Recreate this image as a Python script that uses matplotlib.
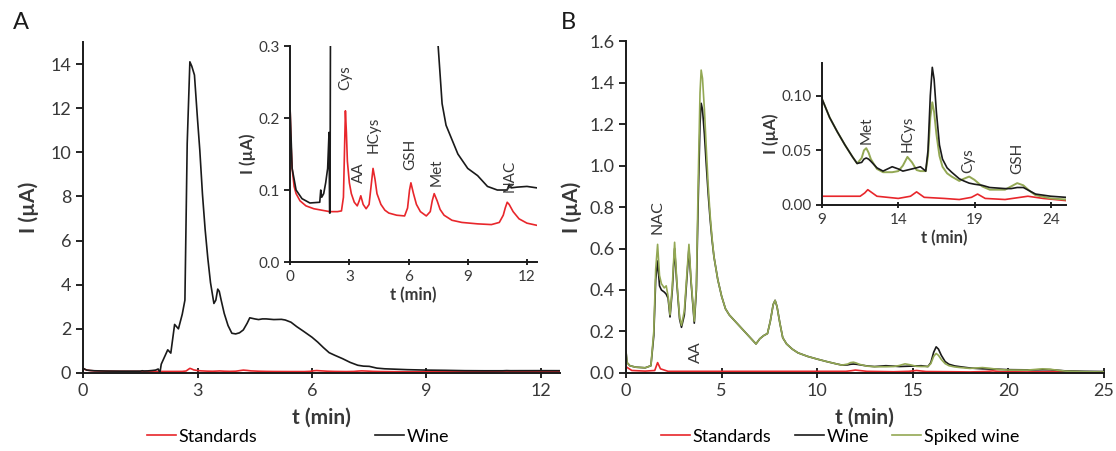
import numpy as np
import matplotlib
matplotlib.use("Agg")
import matplotlib.pyplot as plt
from matplotlib.lines import Line2D
from matplotlib.ticker import FormatStrFormatter

plt.rcParams['font.family'] = ['Lato', 'DejaVu Sans']

# ---------------- Panel A data (t in min, I in uA) ---------------- #
a_wine_t = [0, 0.1, 0.3, 0.6, 1.0, 1.5, 1.55, 1.6, 1.7, 1.8, 1.9, 1.97, 2.0, 2.02, 2.05,
            2.22, 2.3, 2.4, 2.5, 2.6, 2.67, 2.73, 2.8, 2.85, 2.92, 3.0, 3.06, 3.13, 3.2,
            3.27, 3.34, 3.43, 3.48, 3.53, 3.57, 3.62, 3.7, 3.8, 3.9, 4.0, 4.1, 4.2, 4.3,
            4.37, 4.5, 4.6, 4.7, 4.8, 5.0, 5.2, 5.3, 5.45, 5.6, 5.77, 6.0, 6.15, 6.3, 6.45,
            6.6, 6.8, 7.0, 7.2, 7.35, 7.5, 7.7, 7.9, 8.2, 8.5, 9.0, 9.5, 10.0, 10.5, 11.0,
            11.1, 11.2, 11.5, 12.0, 12.5]
a_wine_i = [0.21, 0.13, 0.1, 0.088, 0.082, 0.083, 0.1, 0.09, 0.095, 0.11, 0.13, 0.18, 0.068,
            0.068, 0.4, 1.05, 0.9, 2.2, 2.0, 2.66, 3.3, 10.4, 14.1, 13.9, 13.5, 11.5, 10.1,
            8.1, 6.5, 5.2, 4.1, 3.15, 3.3, 3.8, 3.7, 3.3, 2.7, 2.15, 1.8, 1.77, 1.82, 1.95,
            2.25, 2.5, 2.45, 2.42, 2.45, 2.45, 2.42, 2.43, 2.4, 2.3, 2.1, 1.9, 1.62, 1.4,
            1.15, 0.92, 0.8, 0.65, 0.48, 0.35, 0.31, 0.3, 0.22, 0.19, 0.17, 0.15, 0.13, 0.12,
            0.105, 0.1, 0.1, 0.108, 0.103, 0.104, 0.105, 0.103]

a_std_t = [0, 0.05, 0.1, 0.2, 0.3, 0.5, 0.8, 1.2, 1.6, 2.0, 2.4, 2.6, 2.7, 2.75, 2.8, 2.85,
           2.9, 3.0, 3.1, 3.25, 3.4, 3.5, 3.58, 3.7, 3.85, 4.0, 4.1, 4.2, 4.3, 4.4, 4.6, 4.8,
           5.0, 5.4, 5.8, 5.95, 6.05, 6.12, 6.25, 6.4, 6.6, 6.9, 7.1, 7.2, 7.3, 7.45, 7.6,
           7.8, 8.2, 8.7, 9.5, 10.2, 10.6, 10.8, 10.9, 11.0, 11.1, 11.3, 11.6, 12.0, 12.5]
a_std_i = [0.21, 0.16, 0.13, 0.105, 0.095, 0.085, 0.078, 0.074, 0.072, 0.07, 0.07, 0.071,
           0.09, 0.15, 0.21, 0.18, 0.14, 0.11, 0.095, 0.083, 0.078, 0.085, 0.092, 0.08,
           0.074, 0.08, 0.105, 0.13, 0.115, 0.095, 0.08, 0.072, 0.068, 0.065, 0.064, 0.075,
           0.1, 0.11, 0.095, 0.08, 0.07, 0.064, 0.07, 0.085, 0.095, 0.085, 0.073, 0.065,
           0.058, 0.055, 0.053, 0.052, 0.055, 0.065, 0.075, 0.083, 0.08, 0.07, 0.06, 0.054,
           0.051]

a_peaks = ['Cys', 'AA', 'HCys', 'GSH', 'Met', 'NAC']
a_peak_t = [2.8, 3.5, 4.25, 6.1, 7.4, 11.1]
a_peak_i = [0.256, 0.124, 0.176, 0.149, 0.124, 0.12]

# ---------------- Panel B data ---------------- #
b_t = [0, 0.05, 0.2, 0.5, 1.0, 1.3, 1.45, 1.55, 1.65, 1.75,
       1.85, 2.0, 2.1, 2.2, 2.3, 2.42, 2.54, 2.65, 2.8, 2.9,
       3.05, 3.2, 3.29, 3.4, 3.57, 3.68, 3.78, 3.87, 3.93, 4.0,
       4.1, 4.2, 4.3, 4.4, 4.5, 4.6, 4.8, 5.0, 5.2, 5.4,
       5.7, 6.0, 6.3, 6.5, 6.8, 7.0, 7.2, 7.4, 7.55, 7.7,
       7.8, 7.9, 8.05, 8.2, 8.4, 8.7, 9.0, 9.5, 10, 10.5,
       11, 11.3, 11.6, 11.75, 11.9, 12.05, 12.2, 12.6, 13, 13.6,
       14.0, 14.3, 14.6, 14.9, 15.2, 15.45, 15.8, 15.95, 16.1, 16.23,
       16.35, 16.5, 16.7, 16.9, 17.2, 17.5, 18, 18.3, 18.65, 19.0,
       19.5, 20, 21, 21.4, 21.8, 22.2, 22.6, 23, 24, 25]
b_wine = [0.1, 0.05, 0.035, 0.028, 0.025, 0.035, 0.18, 0.45, 0.54, 0.42,
          0.4, 0.39, 0.38, 0.36, 0.27, 0.4, 0.6, 0.44, 0.26, 0.22,
          0.28, 0.48, 0.6, 0.44, 0.24, 0.4, 0.85, 1.2, 1.3, 1.27,
          1.15, 1.0, 0.86, 0.74, 0.64, 0.56, 0.45, 0.37, 0.31, 0.28,
          0.25, 0.22, 0.19, 0.17, 0.14, 0.165, 0.18, 0.19, 0.25, 0.33,
          0.35, 0.32, 0.24, 0.17, 0.14, 0.115, 0.097, 0.08, 0.067, 0.055,
          0.044, 0.038, 0.039, 0.042, 0.043, 0.042, 0.04, 0.034, 0.031, 0.035,
          0.033, 0.031, 0.032, 0.033, 0.034, 0.035, 0.031, 0.05, 0.1, 0.126,
          0.115, 0.085, 0.055, 0.042, 0.034, 0.03, 0.024, 0.022, 0.02, 0.019,
          0.018, 0.016, 0.015, 0.015, 0.016, 0.016, 0.013, 0.01, 0.008, 0.007]
b_spiked = [0.1, 0.05, 0.035, 0.028, 0.025, 0.035, 0.2, 0.5, 0.62, 0.47,
            0.43, 0.41, 0.42, 0.37, 0.28, 0.42, 0.63, 0.45, 0.27, 0.23,
            0.3, 0.5, 0.62, 0.45, 0.25, 0.42, 0.95, 1.35, 1.46, 1.42,
            1.27, 1.08, 0.9, 0.76, 0.65, 0.56, 0.45, 0.37, 0.31, 0.28,
            0.25, 0.22, 0.19, 0.17, 0.14, 0.165, 0.18, 0.19, 0.25, 0.33,
            0.35, 0.32, 0.24, 0.17, 0.14, 0.115, 0.097, 0.08, 0.067, 0.055,
            0.044, 0.038, 0.043, 0.05, 0.052, 0.048, 0.042, 0.033, 0.03, 0.03,
            0.031, 0.036, 0.044, 0.039, 0.032, 0.031, 0.031, 0.045, 0.08, 0.094,
            0.085, 0.065, 0.045, 0.035, 0.029, 0.026, 0.022, 0.024, 0.026, 0.023,
            0.017, 0.014, 0.014, 0.017, 0.02, 0.018, 0.013, 0.009, 0.006, 0.005]

b_std_t = [0, 0.3, 1.0, 1.5, 1.65, 1.8, 2.2, 5, 9, 11.5, 11.8, 12.0, 12.3, 12.6, 14, 14.8,
           15.2, 15.7, 17, 18, 18.8, 19.2, 19.7, 21, 22.5, 23.5, 25]
b_std_i = [0.03, 0.012, 0.009, 0.012, 0.05, 0.02, 0.008, 0.008, 0.008, 0.008, 0.011, 0.014,
           0.011, 0.008, 0.006, 0.008, 0.012, 0.007, 0.006, 0.005, 0.007, 0.01, 0.006,
           0.005, 0.008, 0.006, 0.004]

b_main_peaks = ['NAC', 'AA']
b_main_peak_t = [1.67, 3.66]
b_main_peak_i = [0.75, 0.1]
b_inset_peaks = ['Met', 'HCys', 'Cys', 'GSH']
b_inset_peak_t = [11.9, 14.6, 18.6, 21.8]
b_inset_peak_i = [0.068, 0.065, 0.041, 0.043]

RED = '#e8262b'
BLACK = '#1a1a1a'
GREEN = '#93a854'
TXT = '#383838'


def style_axes(ax, fs):
    for s in ['top', 'right']:
        ax.spines[s].set_visible(False)
    for s in ['left', 'bottom']:
        ax.spines[s].set_linewidth(1.4)
        ax.spines[s].set_color(BLACK)
    ax.tick_params(axis='x', direction='inout', length=7, width=1.2, labelsize=fs,
                   labelcolor=TXT, pad=4)
    ax.tick_params(axis='y', direction='out', length=5, width=1.2, labelsize=fs,
                   labelcolor=TXT)


fig = plt.figure(figsize=(11.16, 4.51), dpi=100)

# ---------------- Panel A ---------------- #
axA = fig.add_axes([0.0744, 0.173, 0.4274, 0.734])
axA.plot(a_std_t, a_std_i, color=RED, lw=1.2)
axA.plot(a_wine_t, a_wine_i, color=BLACK, lw=1.2)
axA.set_xlim(0, 12.5)
axA.set_ylim(0, 15)
axA.set_xticks([0, 3, 6, 9, 12])
axA.set_yticks(range(0, 15, 2))
style_axes(axA, 13)
axA.set_xlabel('t (min)', fontsize=15, fontweight='bold', color=TXT, labelpad=6)
axA.set_ylabel('I (µA)', fontsize=15, fontweight='bold', color=TXT, labelpad=8)
fig.text(0.012, 0.935, 'A', fontsize=17, color=BLACK)

insA = fig.add_axes([0.260, 0.419, 0.221, 0.479])
insA.plot(a_std_t, a_std_i, color=RED, lw=1.2)
insA.plot(a_wine_t, a_wine_i, color=BLACK, lw=1.2)
insA.set_xlim(0, 12.5)
insA.set_ylim(0, 0.3)
insA.set_xticks([0, 3, 6, 9, 12])
insA.set_yticks([0, 0.1, 0.2, 0.3])
insA.yaxis.set_major_formatter(FormatStrFormatter('%.1f'))
style_axes(insA, 11)
insA.tick_params(length=4)
insA.set_xlabel('t (min)', fontsize=12, fontweight='bold', color=TXT, labelpad=2)
insA.set_ylabel('I (µA)', fontsize=12, fontweight='bold', color=TXT, labelpad=2)
for name, t, i in zip(a_peaks, a_peak_t, a_peak_i):
    insA.text(t, i, name, rotation=90, ha='center', va='center', fontsize=11, color=TXT)

fig.legend(handles=[Line2D([], [], color=RED, lw=1.2), Line2D([], [], color=BLACK, lw=1.2)],
           labels=['Standards', 'Wine'], loc='center', bbox_to_anchor=(0.267, 0.032),
           ncol=2, frameon=False, fontsize=13, handlelength=1.6, handletextpad=0.15,
           columnspacing=6.5)

# ---------------- Panel B ---------------- #
axB = fig.add_axes([0.561, 0.173, 0.428, 0.736])
axB.plot(b_std_t, b_std_i, color=RED, lw=1.2)
axB.plot(b_t, b_wine, color=BLACK, lw=1.2)
axB.plot(b_t, b_spiked, color=GREEN, lw=1.2)
axB.set_xlim(0, 25)
axB.set_ylim(0, 1.6)
axB.set_xticks(range(0, 26, 5))
axB.set_yticks(np.arange(0, 1.61, 0.2))
axB.yaxis.set_major_formatter(FormatStrFormatter('%.1f'))
style_axes(axB, 13)
axB.set_xlabel('t (min)', fontsize=15, fontweight='bold', color=TXT, labelpad=6)
axB.set_ylabel('I (µA)', fontsize=15, fontweight='bold', color=TXT, labelpad=5)
for name, t, i in zip(b_main_peaks, b_main_peak_t, b_main_peak_i):
    axB.text(t, i, name, rotation=90, ha='center', va='center', fontsize=11.5, color=TXT)
fig.text(0.503, 0.935, 'B', fontsize=17, color=BLACK)

insB = fig.add_axes([0.7366, 0.5455, 0.2186, 0.3149])
insB.plot(b_std_t, b_std_i, color=RED, lw=1.2)
insB.plot(b_t, b_spiked, color=GREEN, lw=1.4)
insB.plot(b_t, b_wine, color=BLACK, lw=1.2)
insB.set_xlim(9, 25)
insB.set_ylim(0, 0.13)
insB.set_xticks([9, 14, 19, 24])
insB.set_yticks([0, 0.05, 0.1])
insB.yaxis.set_major_formatter(FormatStrFormatter('%.2f'))
style_axes(insB, 11)
insB.tick_params(length=4)
insB.set_xlabel('t (min)', fontsize=12, fontweight='bold', color=TXT, labelpad=2)
insB.set_ylabel('I (µA)', fontsize=12, fontweight='bold', color=TXT, labelpad=2)
for name, t, i in zip(b_inset_peaks, b_inset_peak_t, b_inset_peak_i):
    insB.text(t, i, name, rotation=90, ha='center', va='center', fontsize=11, color=TXT)

fig.legend(handles=[Line2D([], [], color=RED, lw=1.2), Line2D([], [], color=BLACK, lw=1.2),
                    Line2D([], [], color=GREEN, lw=1.2)],
           labels=['Standards', 'Wine', 'Spiked wine'], loc='center',
           bbox_to_anchor=(0.7527, 0.032), ncol=3, frameon=False, fontsize=13,
           handlelength=1.6, handletextpad=0.15, columnspacing=1.3)

fig.savefig('out.png', dpi=100)
